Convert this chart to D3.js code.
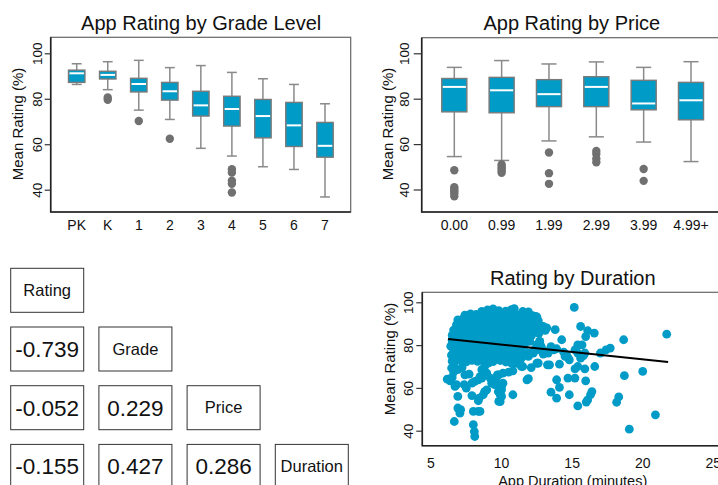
<!DOCTYPE html>
<html>
<head>
<meta charset="utf-8">
<script src="https://cdn.jsdelivr.net/npm/d3@7"></script>
<style>
  body { margin: 0; background: #fff; }
  svg { display: block; font-family: "Liberation Sans", Arial, Helvetica, sans-serif; }
</style>
</head>
<body>
<svg id="chart" width="718" height="485"></svg>
<script>
// ---- data ----
const ratingTicks = [40, 60, 80, 100];

const gradeCats = ["PK", "K", "1", "2", "3", "4", "5", "6", "7"];
const gradeLo  = [86.3, 84.0, 75.0, 70.9, 58.2, 54.8, 50.1, 48.9, 36.8];
const gradeQ1  = [87.2, 88.7, 83.0, 79.4, 72.4, 68.0, 62.8, 59.0, 54.3];
const gradeMed = [91.2, 90.5, 86.5, 83.3, 77.1, 75.5, 72.4, 68.3, 59.3];
const gradeQ3  = [92.6, 92.1, 89.0, 87.2, 83.3, 81.1, 79.7, 78.4, 69.6];
const gradeHi  = [95.4, 96.3, 96.9, 93.7, 94.6, 91.6, 88.8, 86.3, 77.8];
const gradeOut = [[], [80.6, 79.6], [70.2], [62.4], [], [49.0, 47.5, 44.0, 42.6, 38.8], [], [], []];

const priceCats = ["0.00", "0.99", "1.99", "2.99", "3.99", "4.99+"];
const priceLo  = [54.5, 52.8, 61.4, 63.2, 60.9, 52.3];
const priceQ1  = [74.2, 73.8, 76.5, 76.5, 75.1, 70.7];
const priceMed = [85.2, 83.7, 82.0, 85.2, 77.9, 79.3];
const priceQ3  = [88.9, 89.4, 88.4, 89.7, 88.1, 87.2];
const priceHi  = [93.8, 96.8, 95.3, 96.2, 93.8, 96.3];
const priceOut = [[48.5, 41.0, 40.0, 39.2, 38.3, 37.0], [51.0, 50.0, 49.2, 48.3, 47.4],
                  [56.3, 47.2, 42.5], [57.0, 55.6, 53.6, 52.0], [49.0, 43.8], []];

const corrLabels = ["Rating", "Grade", "Price", "Duration"];
const corrValues = [[-0.739], [-0.052, 0.229], [-0.155, 0.427, 0.286]];

const durationTicks = [5, 10, 15, 20, 25];
const fitX = [6.2, 21.8];
const fitY = [82.9, 72.1];
// [duration (minutes), mean rating (%)]
const durationPoints = [
  [9.0,96.4],[9.4,96.9],[9.8,96.1],[10.3,95.9],[10.7,96.6],[10.9,97.0],[11.5,95.7],[8.6,95.8],[11.9,95.5],
  [7.4,94.0],[7.8,94.6],[8.2,94.3],[8.6,94.9],[9.0,94.2],[9.4,94.7],[9.8,94.1],[10.2,94.8],[10.6,94.3],[11.0,94.6],[11.4,94.0],[11.8,94.5],[12.2,93.8],[12.5,93.2],
  [6.9,91.8],[7.3,92.4],[7.7,91.9],[8.1,92.5],[8.5,91.7],[8.9,92.2],[9.3,91.6],[9.7,92.6],[10.1,91.9],[10.5,92.3],[10.9,91.7],[11.3,92.5],[11.7,91.8],[12.1,92.2],[12.6,91.5],
  [6.8,89.5],[7.2,90.1],[7.6,89.4],[8.0,90.0],[8.4,89.6],[8.8,90.3],[9.2,89.5],[9.6,89.9],[10.0,89.3],[10.4,90.2],[10.8,89.6],[11.2,90.0],[11.6,89.4],[12.0,89.9],[12.4,89.2],[12.8,89.0],
  [6.6,87.0],[7.0,87.6],[7.4,87.2],[7.8,87.8],[8.2,87.0],[8.6,87.5],[9.0,87.1],[9.4,87.7],[9.8,86.9],[10.2,87.4],[10.6,87.0],[11.0,87.6],[11.4,86.8],[11.8,87.3],[12.2,86.9],[12.9,88.5],[13.1,86.9],
  [6.5,84.5],[6.9,85.1],[7.3,84.6],[7.7,85.2],[8.1,84.4],[8.5,85.0],[8.9,84.7],[9.3,85.3],[9.7,84.5],[10.1,85.0],[10.5,84.6],[10.9,85.2],[11.3,84.4],[11.7,84.9],[12.1,84.3],[12.6,85.6],
  [6.5,82.0],[6.8,82.7],[7.2,82.1],[7.6,82.6],[8.0,81.9],[8.4,82.5],[8.8,82.0],[9.2,82.7],[9.6,82.1],[10.0,82.4],[10.4,81.8],[10.8,82.6],[11.2,82.0],[11.6,82.4],[12.0,81.7],[12.7,81.7],
  [6.4,79.5],[6.8,80.1],[7.2,79.4],[7.6,80.0],[8.0,79.6],[8.4,80.3],[8.8,79.5],[9.2,79.9],[9.6,79.3],[10.0,80.2],[10.4,79.6],[10.8,80.0],[11.2,79.4],[11.6,79.8],[12.5,80.1],[12.8,79.3],
  [6.6,77.0],[7.0,77.6],[7.4,77.1],[7.8,77.7],[8.2,76.9],[8.6,77.4],[9.0,77.0],[9.4,77.6],[9.8,76.8],[10.2,77.3],[10.6,76.9],[11.0,77.5],[11.4,76.7],[11.9,76.3],[12.3,77.6],
  [6.6,74.5],[7.0,75.1],[7.4,74.6],[7.8,75.2],[8.2,74.4],[8.6,75.0],[9.0,74.7],[9.4,75.3],[9.8,74.5],[10.2,75.0],[10.6,74.4],[11.0,74.9],[11.4,73.9],[11.9,74.7],[12.95,75.8],
  [6.7,72.3],[7.1,72.8],[7.5,72.2],[7.9,72.9],[8.3,72.4],[8.7,72.7],[9.4,72.3],[9.9,72.8],[10.3,72.1],[10.7,71.6],[11.1,71.6],[12.55,71.6],[6.5,72.5],[6.45,75.3],
  [6.15,64.1],[6.35,63.3],[6.5,64.9],[6.6,67.4],[6.8,61.5],[6.7,60.7],[6.9,56.0],[6.9,50.6],[7.1,49.8],[7.05,48.2],[6.65,44.3],
  [8.0,42.8],[8.07,39.6],[8.1,37.3],[8.0,49.0],[8.35,49.0],[7.9,56.4],[8.4,55.2],[8.35,54.0],[7.35,61.5],[7.5,59.9],
  [7.9,62.2],[8.1,63.0],[8.35,63.8],[8.6,64.6],[7.4,66.1],[7.7,66.4],[6.7,68.9],[6.9,68.5],[7.2,69.5],[6.46,69.3],
  [8.47,49.0],[10.8,56.8],[9.9,53.6],[9.77,58.3],[9.9,56.8],[10.0,60.7],[10.1,62.2],[8.95,59.1],[8.8,58.3],[8.7,56.8],
  [9.3,62.2],[9.4,63.8],[9.2,64.6],[9.8,66.1],[10.1,66.9],[10.5,67.4],[10.8,68.0],[11.9,64.3],[11.5,70.0],[12.1,69.5],
  [12.5,71.6],[12.25,76.3],[12.5,77.8],[8.8,70.0],[9.06,71.6],[8.6,68.5],[8.95,66.9],[8.47,65.3],
  [11.8,63.8],[11.4,70.0],[11.0,71.6],[9.8,53.7],[10.0,56.0],[10.0,59.1],[9.5,61.5],[9.6,63.8],[9.7,66.1],
  [15.15,97.6],[15.6,88.7],[16.1,86.7],[15.96,84.0],[16.57,85.6],[18.65,82.5],[18.7,65.7],[18.3,55.8],[18.15,53.3],
  [17.7,78.6],[17.4,77.8],[17.0,76.3],[16.6,70.0],[15.96,63.3],[16.4,58.3],[16.3,56.8],[16.1,54.4],[16.0,53.4],[15.4,51.6],
  [14.8,56.8],[15.2,64.6],[14.7,64.6],[14.1,60.2],[13.9,55.2],[13.5,58.0],[13.9,63.8],[15.9,68.9],[15.4,70.0],[15.2,68.9],
  [14.1,71.1],[13.4,70.8],[13.25,70.8],[12.6,71.6],[14.8,73.1],[14.7,74.2],[14.5,74.7],[14.6,75.5],[15.6,73.9],[15.8,75.1],
  [15.9,76.3],[15.4,76.3],[15.2,77.8],[15.4,80.1],[15.7,80.1],[14.26,82.5],[13.8,87.2],[13.2,88.0],[12.95,88.7],[12.4,93.4],
  [13.1,77.0],[13.3,76.3],[13.5,79.3],[13.7,77.8],[13.9,78.3],[14.4,76.7],[12.65,85.6],[12.7,81.7],[12.5,80.1],[12.8,79.3],
  [21.7,85.1],[20.0,67.7],[20.9,47.4],[19.05,40.7]
];

// ---- styling ----
const blue = "#009bc7";
const grey = "#8a8a8a";
const dotGrey = "#707070";

const svg = d3.select("#chart");
svg.append("rect").attr("width", 718).attr("height", 485).attr("fill", "#fff");

function frame(g, x0, x1, y0, y1) {
  g.append("rect")
    .attr("x", x0).attr("y", y0)
    .attr("width", x1 - x0).attr("height", y1 - y0)
    .attr("fill", "none").attr("stroke", "#666").attr("stroke-width", 1.2);
  g.append("path")
    .attr("d", `M${x0},${y0}V${y1}H${x1}`)
    .attr("fill", "none").attr("stroke", "#222").attr("stroke-width", 1.6);
}

// y axis with R style rotated labels
function ratingAxis(g, y, x0, tickLen, labelGap, titleX, titleY) {
  const ax = g.append("g")
    .attr("transform", `translate(${x0},0)`)
    .call(d3.axisLeft(y).tickValues(ratingTicks).tickSize(tickLen).tickSizeOuter(0));
  ax.select(".domain").remove();
  ax.selectAll(".tick line").attr("stroke", "#333").attr("stroke-width", 1.2);
  ax.selectAll(".tick text")
    .attr("x", 0).attr("y", -labelGap).attr("dy", 0)
    .attr("transform", "rotate(-90)")
    .attr("text-anchor", "middle")
    .attr("fill", "#111")
    .style("font-size", "13.5px")
    .style("font-family", "inherit");
  g.append("text")
    .attr("transform", `translate(${titleX},${titleY}) rotate(-90)`)
    .attr("text-anchor", "middle")
    .attr("fill", "#111")
    .style("font-size", "15px")
    .text("Mean Rating (%)");
}

function boxplot(o) {
  const g = svg.append("g");
  const x = d3.scalePoint().domain(o.cats).range(o.xRange);
  const y = d3.scaleLinear().domain([40, 100]).range([o.y40, o.y100]);
  const step = x.step();
  const bw = step * 0.53;
  const cw = bw * 0.6;

  frame(g, o.x0, o.x1, o.y0, o.y1);

  o.cats.forEach((c, i) => {
    const cx = x(c);
    const b = g.append("g");
    b.append("line").attr("x1", cx).attr("x2", cx)
      .attr("y1", y(o.hi[i])).attr("y2", y(o.q3[i]))
      .attr("stroke", grey).attr("stroke-width", 1.5);
    b.append("line").attr("x1", cx).attr("x2", cx)
      .attr("y1", y(o.q1[i])).attr("y2", y(o.lo[i]))
      .attr("stroke", grey).attr("stroke-width", 1.5);
    [o.hi[i], o.lo[i]].forEach(v => {
      b.append("line").attr("x1", cx - cw / 2).attr("x2", cx + cw / 2)
        .attr("y1", y(v)).attr("y2", y(v))
        .attr("stroke", grey).attr("stroke-width", 1.5);
    });
    b.append("rect")
      .attr("x", cx - bw / 2).attr("y", y(o.q3[i]))
      .attr("width", bw).attr("height", y(o.q1[i]) - y(o.q3[i]))
      .attr("fill", blue).attr("stroke", "#7a7a7a").attr("stroke-width", 1.4);
    b.append("line")
      .attr("x1", cx - bw / 2 + 1).attr("x2", cx + bw / 2 - 1)
      .attr("y1", y(o.med[i])).attr("y2", y(o.med[i]))
      .attr("stroke", "#fff").attr("stroke-width", 2);
    b.selectAll("circle").data(o.out[i]).join("circle")
      .attr("cx", cx).attr("cy", d => y(d)).attr("r", 4.2)
      .attr("fill", dotGrey);
  });

  ratingAxis(g, y, o.x0, o.tickLen, o.labelGap, o.titleX, 124);

  g.selectAll(".xlab").data(o.cats).join("text")
    .attr("class", "xlab")
    .attr("x", d => x(d)).attr("y", 230)
    .attr("text-anchor", "middle")
    .attr("fill", "#111")
    .style("font-size", "14px")
    .text(d => d);

  g.append("text")
    .attr("x", (o.x0 + Math.min(o.x1, 718 + 20)) / 2 + o.titleShift).attr("y", 30)
    .attr("text-anchor", "middle")
    .attr("fill", "#111")
    .style("font-size", "20px")
    .text(o.title);
}

boxplot({
  title: "App Rating by Grade Level", titleShift: 0.5,
  cats: gradeCats, lo: gradeLo, q1: gradeQ1, med: gradeMed, q3: gradeQ3, hi: gradeHi, out: gradeOut,
  xRange: [76.7, 325], x0: 50.7, x1: 350.7, y0: 37.3, y1: 212,
  y40: 189.7, y100: 53.3, tickLen: 6, labelGap: 9, titleX: 22.7
});

boxplot({
  title: "App Rating by Price", titleShift: -8,
  cats: priceCats, lo: priceLo, q1: priceQ1, med: priceMed, q3: priceQ3, hi: priceHi, out: priceOut,
  xRange: [454.3, 691], x0: 421.7, x1: 740, y0: 37.7, y1: 212,
  y40: 189.5, y100: 53.3, tickLen: 8, labelGap: 12.5, titleX: 393
});

// ---- correlation boxes ----
const corr = svg.append("g");
const colX = d3.scaleLinear().domain([0, 1]).range([10.7, 98.9]);
const rowY = d3.scaleLinear().domain([0, 1]).range([268.3, 327]);
const cellW = 73, cellH = 44;

function cell(col, row, txt, size) {
  corr.append("rect")
    .attr("x", colX(col)).attr("y", rowY(row))
    .attr("width", cellW).attr("height", cellH)
    .attr("fill", "none").attr("stroke", "#333").attr("stroke-width", 1);
  corr.append("text")
    .attr("x", colX(col) + cellW / 2).attr("y", rowY(row) + cellH / 2)
    .attr("dy", "0.35em")
    .attr("text-anchor", "middle")
    .attr("fill", "#111")
    .style("font-size", size)
    .text(txt);
}

corrLabels.forEach((l, i) => cell(i, i, l, "16.5px"));
corrValues.forEach((row, r) => {
  row.forEach((v, c) => cell(c, r + 1, d3.format(".3f")(v).replace("−", "-"), "22.5px"));
});

// ---- scatter: rating by duration ----
const sc = svg.append("g");
const sx = d3.scaleLinear().domain([5, 25]).range([431, 713.3]);
const sy = d3.scaleLinear().domain([40, 100]).range([430.7, 302.3]);

frame(sc, 422.3, 740, 292.3, 445.7);

sc.selectAll("circle").data(durationPoints).join("circle")
  .attr("cx", d => sx(d[0])).attr("cy", d => sy(d[1])).attr("r", 4.4)
  .attr("fill", blue);

sc.append("path")
  .datum(d3.zip(fitX, fitY))
  .attr("fill", "none").attr("stroke", "#000").attr("stroke-width", 2)
  .attr("d", d3.line().x(d => sx(d[0])).y(d => sy(d[1])));

ratingAxis(sc, sy, 422.3, 6, 9.6, 395, 359);

sc.selectAll(".xt").data(durationTicks).join("text")
  .attr("class", "xt")
  .attr("x", d => sx(d)).attr("y", 468.3)
  .attr("text-anchor", "middle")
  .attr("fill", "#111")
  .style("font-size", "14px")
  .text(d => d);

// the reference cuts this label at the bottom edge as well
sc.append("text")
  .attr("x", 572.7).attr("y", 485.5)
  .attr("text-anchor", "middle")
  .attr("fill", "#111")
  .style("font-size", "14.5px")
  .text("App Duration (minutes)");

sc.append("text")
  .attr("x", 572.8).attr("y", 285)
  .attr("text-anchor", "middle")
  .attr("fill", "#111")
  .style("font-size", "20px")
  .text("Rating by Duration");
</script>
</body>
</html>
